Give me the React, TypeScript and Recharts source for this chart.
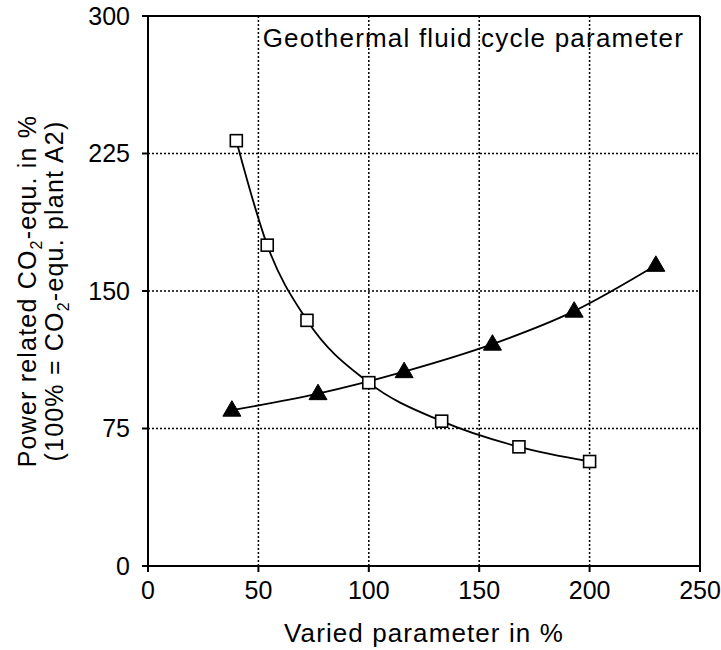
import React from 'react'
import {
  CartesianGrid,
  Label,
  Line,
  LineChart,
  ReferenceLine,
  XAxis,
  YAxis,
} from 'recharts'

// values
const squareX = [40, 54, 72, 100, 133, 168, 200]
const squareY = [232, 175, 134, 100, 79, 65, 57]
const triangleX = [38, 77, 116, 156, 193, 230]
const triangleY = [85, 94, 106, 121, 139, 164]

const xTicks = [0, 50, 100, 150, 200, 250]
const yTicks = [0, 75, 150, 225, 300]

const squareData = squareX.map((x, i) => ({ x, y: squareY[i] }))
const triangleData = triangleX.map((x, i) => ({ x, y: triangleY[i] }))

const FONT = '"Liberation Sans", Arial, Helvetica, sans-serif'

const SquareDot = (props: any) => {
  const { cx, cy, index } = props
  if (cx == null || cy == null) return null
  return (
    <rect
      key={`sq-${index}`}
      x={cx - 6}
      y={cy - 6}
      width={12}
      height={12}
      fill="#fff"
      stroke="#000"
      strokeWidth={1.6}
    />
  )
}

const TriangleDot = (props: any) => {
  const { cx, cy, index } = props
  if (cx == null || cy == null) return null
  return (
    <polygon
      key={`tr-${index}`}
      points={`${cx},${cy - 9.5} ${cx - 9},${cy + 6} ${cx + 9},${cy + 6}`}
      fill="#000"
      stroke="#000"
      strokeWidth={1}
    />
  )
}

const YLabel = (props: any) => {
  const vb = props.viewBox || {}
  const cx = 36
  const cy = (vb.y ?? 16) + (vb.height ?? 550) / 2
  return (
    <text
      x={cx}
      y={cy}
      transform={`rotate(-90, ${cx}, ${cy})`}
      textAnchor="middle"
      fontFamily={FONT}
      fontSize={25}
      letterSpacing={1.2}
      fill="#000"
    >
      <tspan>Power related CO</tspan>
      <tspan fontSize={16} dy={6}>2</tspan>
      <tspan dy={-6}>-equ. in %</tspan>
      <tspan x={cx} dy={27}>(100% = CO</tspan>
      <tspan fontSize={16} dy={6}>2</tspan>
      <tspan dy={-6}>-equ. plant A2)</tspan>
    </text>
  )
}

const TitleLabel = (props: any) => {
  const vb = props.viewBox || {}
  return (
    <text
      x={vb.x + vb.width - 16}
      y={vb.y + 31}
      textAnchor="end"
      fontFamily={FONT}
      fontSize={26}
      letterSpacing={1.2}
      fill="#000"
    >
      Geothermal fluid cycle parameter
    </text>
  )
}

export default function App() {
  const tick = { fontSize: 25, fill: '#000', fontFamily: FONT }
  return (
    <div style={{ position: 'absolute', left: 0, top: 0, background: '#fff' }}>
      <LineChart
        width={721}
        height={650}
        margin={{ top: 16, right: 21, bottom: 34, left: 68 }}
      >
        <CartesianGrid stroke="#000" strokeDasharray="2 2" strokeWidth={1.5} />
        <XAxis
          type="number"
          dataKey="x"
          domain={[0, 250]}
          ticks={xTicks}
          allowDataOverflow
          height={50}
          tick={tick}
          tickSize={6}
          tickMargin={9}
          tickLine={{ stroke: '#000', strokeWidth: 2 }}
          axisLine={{ stroke: '#000', strokeWidth: 2 }}
        >
          <Label
            value="Varied parameter in %"
            position="bottom"
            offset={8}
            style={{ fontSize: 26, fill: '#000', fontFamily: FONT, letterSpacing: 1.1 }}
          />
        </XAxis>
        <YAxis
          type="number"
          dataKey="y"
          domain={[0, 300]}
          ticks={yTicks}
          allowDataOverflow
          width={80}
          tick={tick}
          tickSize={6}
          tickMargin={12}
          tickLine={{ stroke: '#000', strokeWidth: 2 }}
          axisLine={{ stroke: '#000', strokeWidth: 2 }}
        >
          <Label content={YLabel} />
        </YAxis>
        <ReferenceLine y={300} stroke="#000" strokeWidth={2}>
          <Label content={TitleLabel} />
        </ReferenceLine>
        <ReferenceLine x={250} stroke="#000" strokeWidth={2} />
        <Line
          data={triangleData}
          dataKey="y"
          type="monotone"
          stroke="#000"
          strokeWidth={1.8}
          dot={TriangleDot}
          activeDot={false}
          isAnimationActive={false}
        />
        <Line
          data={squareData}
          dataKey="y"
          type="monotone"
          stroke="#000"
          strokeWidth={1.8}
          dot={SquareDot}
          activeDot={false}
          isAnimationActive={false}
        />
      </LineChart>
    </div>
  )
}
